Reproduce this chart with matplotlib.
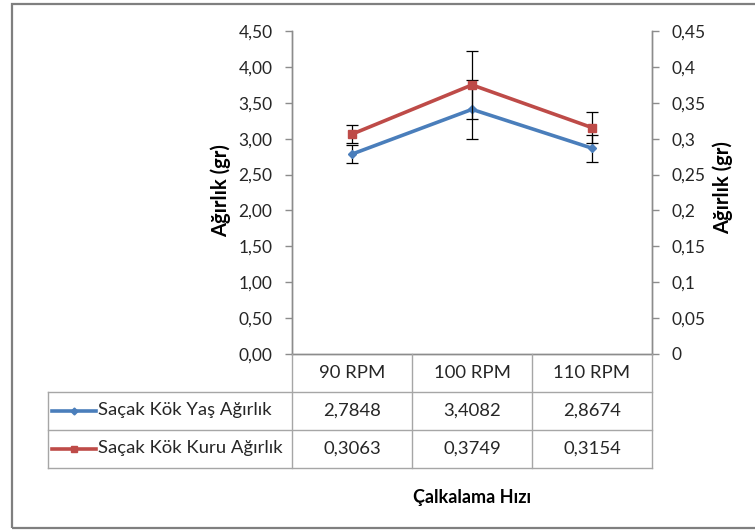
import matplotlib
matplotlib.use("Agg")
import matplotlib.pyplot as plt
from matplotlib.lines import Line2D
from matplotlib.patches import Rectangle
from matplotlib.ticker import FuncFormatter, MultipleLocator
from matplotlib.transforms import blended_transform_factory

plt.rcParams['font.family'] = ['Lato', 'DejaVu Sans']

# --- data -------------------------------------------------------------
categories = ['90 RPM', '100 RPM', '110 RPM']
series_names = ['Saçak Kök Yaş Ağırlık', 'Saçak Kök Kuru Ağırlık']
yas = [2.7848, 3.4082, 2.8674]          # left axis
kuru = [0.3063, 0.3749, 0.3154]         # right axis
yas_err = [0.13, 0.41, 0.19]
kuru_err = [0.0125, 0.047, 0.022]
x_label = 'Çalkalama Hızı'
y_label = 'Ağırlık (gr)'

# --- style ------------------------------------------------------------
BLUE = '#4A7EBB'
RED = '#BE4B48'
TXT = '#262626'
AXC = '#8C8C8C'
GRID = '#A6A6A6'
FS_TICK = 12.5
FS_TAB = 13.3
FS_XL = 13
FS_YL = 14.5

W, H = 755, 530
fig = plt.figure(figsize=(W / 100, H / 100), dpi=100)


def fx(px):
    return px / W


def fy(py):
    return 1 - py / H


L, R, T, B = 292, 652, 31, 354
ax = fig.add_axes([fx(L), fy(B), fx(R) - fx(L), fy(T) - fy(B)])
ax2 = ax.twinx()

xs = list(range(len(categories)))
ax.errorbar(xs, yas, yerr=yas_err, color=BLUE, lw=2.6, marker='D', ms=4.5,
            ecolor='black', elinewidth=0.9, capsize=4.3, capthick=0.9, zorder=3)
ax2.errorbar(xs, kuru, yerr=kuru_err, color=RED, lw=2.6, marker='s', ms=5.5,
             ecolor='black', elinewidth=0.9, capsize=4.3, capthick=0.9, zorder=3)

for a in (ax, ax2):
    a.set_xlim(-0.5, len(categories) - 0.5)
    a.set_xticks([])
    a.spines['top'].set_visible(False)
    for s in ('left', 'right', 'bottom'):
        a.spines[s].set_color(AXC)
        a.spines[s].set_linewidth(1.0)
    a.tick_params(axis='y', direction='out', length=5, width=1, color=AXC,
                  labelsize=FS_TICK, labelcolor=TXT, pad=9)

ax.set_ylim(0, 4.5)
ax.yaxis.set_major_locator(MultipleLocator(0.5))
ax.yaxis.set_major_formatter(FuncFormatter(lambda v, p: f"{v:.2f}".replace('.', ',')))
ax2.set_ylim(0, 0.45)
ax2.yaxis.set_major_locator(MultipleLocator(0.05))
ax2.yaxis.set_major_formatter(FuncFormatter(lambda v, p: f"{round(v, 4):g}".replace('.', ',')))

fig.text(fx(221), fy(191), y_label, rotation=90, ha='center', va='center',
         fontsize=FS_YL, fontweight='bold', color='black')
fig.text(fx(723), fy(188), y_label, rotation=90, ha='center', va='center',
         fontsize=FS_YL, fontweight='bold', color='black')
fig.text(fx(472), fy(497), x_label, ha='center', va='center',
         fontsize=FS_XL, fontweight='bold', color='black')

# --- data table under the plot -----------------------------------------
def hline(x0, x1, y):
    fig.add_artist(Line2D([fx(x0), fx(x1)], [fy(y), fy(y)], color=GRID, lw=1.0,
                          transform=fig.transFigure))


def vline(x, y0, y1):
    fig.add_artist(Line2D([fx(x), fx(x)], [fy(y0), fy(y1)], color=GRID, lw=1.0,
                          transform=fig.transFigure))


TL = 48
rows_y = [354, 391.5, 429.5, 467.5]
hline(TL, R, rows_y[1])
hline(TL, R, rows_y[2])
hline(TL, R, rows_y[3])
vline(TL, rows_y[1], rows_y[3])
vline(L, B, rows_y[3])
vline(R, B, rows_y[3])
tr = blended_transform_factory(ax.transData, fig.transFigure)
for i in range(1, len(categories)):
    xp = ax.transData.transform((i - 0.5, 0))[0]
    vline(xp, B, rows_y[3])

cy = [(rows_y[k] + rows_y[k + 1]) / 2 for k in range(3)]
for i, c in enumerate(categories):
    fig.text(i, fy(cy[0]), c, transform=tr, ha='center', va='center',
             fontsize=FS_TAB, color=TXT)
for row, vals in ((1, yas), (2, kuru)):
    for i, v in enumerate(vals):
        fig.text(i, fy(cy[row]), f"{v:.4f}".replace('.', ','), transform=tr,
                 ha='center', va='center', fontsize=FS_TAB, color=TXT)

# legend keys inside the table
for row, (name, col, mk, ms) in enumerate(((series_names[0], BLUE, 'D', 3.5),
                                          (series_names[1], RED, 's', 5)), start=1):
    fig.add_artist(Line2D([fx(52), fx(96)], [fy(cy[row])] * 2, color=col, lw=2.6,
                          transform=fig.transFigure))
    fig.add_artist(Line2D([fx(74)], [fy(cy[row])], color=col, marker=mk, ms=ms,
                          transform=fig.transFigure))
    fig.text(fx(98), fy(cy[row]), name, ha='left', va='center', fontsize=FS_TAB, color=TXT)

# chart frame
fig.add_artist(Rectangle((fx(12), fy(528)), fx(760) - fx(12), fy(4) - fy(528),
                         transform=fig.transFigure, fill=False,
                         edgecolor='#7F7F7F', lw=1.6))

fig.savefig('out.png', dpi=100)
